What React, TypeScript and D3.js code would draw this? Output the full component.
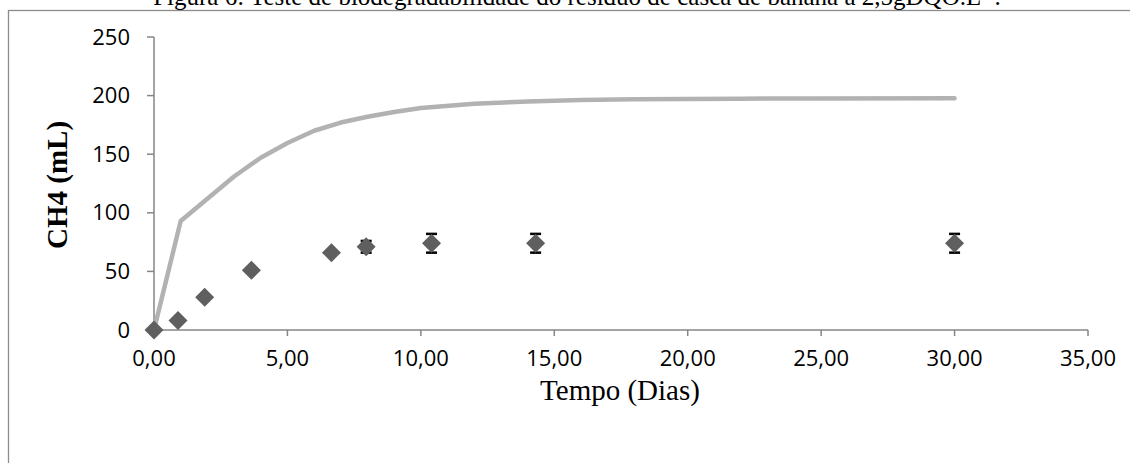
import { useEffect, useRef } from "react";
import * as d3 from "d3";

// Measured points (days, mL CH4) with standard deviation
const obsDays = [0, 0.9, 1.9, 3.65, 6.65, 7.95, 10.4, 14.3, 30];
const obsCH4 = [0, 8, 28, 51, 66, 71, 74, 74, 74];
const obsErr = [0, 0, 0, 2, 0, 5, 8, 8, 8];

// Theoretical curve
const curveDays = [0, 1, 2, 3, 4, 5, 6, 7, 8, 9, 10, 12, 14, 16, 18, 20, 22, 25, 30];
const curveCH4 = [0, 93, 112, 131, 147, 159.5, 170, 177, 182, 186, 189.5, 193, 195, 196.2, 196.9, 197.2, 197.4, 197.6, 197.8];

const yTicks = [0, 50, 100, 150, 200, 250];
const xTicks = [0, 5, 10, 15, 20, 25, 30, 35];

export default function App() {
  const svgRef = useRef<SVGSVGElement>(null);

  useEffect(() => {
    if (!svgRef.current) return;
    const width = 1130;
    const height = 463;
    const axisColor = "#868686";

    const svg = d3.select(svgRef.current);
    svg.selectAll("*").remove();
    svg.attr("width", width).attr("height", height);

    // Outer frame (chart area border, cut by the window)
    svg.append("rect")
      .attr("x", 8.5)
      .attr("y", 10.5)
      .attr("width", 1200)
      .attr("height", 600)
      .attr("fill", "#fff")
      .attr("stroke", "#8c8c8c")
      .attr("stroke-width", 1.3);

    // Caption (only lower part visible at top)
    const cap = svg.append("text")
      .attr("x", 577)
      .attr("y", 5)
      .attr("text-anchor", "middle")
      .attr("font-family", "'Liberation Serif', 'Times New Roman', serif")
      .attr("font-size", 25)
      .attr("fill", "#000");
    cap.append("tspan").text("Figura 6: Teste de biodegradabilidade do resíduo de casca de banana a 2,5gDQO.L");
    cap.append("tspan").attr("dy", -9).attr("font-size", 16).text("-1");
    cap.append("tspan").attr("dy", 9).text(".");

    const x = d3.scaleLinear().domain([0, 35]).range([154, 1088]);
    const y = d3.scaleLinear().domain([0, 250]).range([330, 37]);

    const g = svg.append("g");

    // Y axis
    g.append("line")
      .attr("x1", x(0)).attr("x2", x(0))
      .attr("y1", y(250)).attr("y2", y(0))
      .attr("stroke", axisColor).attr("stroke-width", 1.5);
    yTicks.forEach(t => {
      g.append("line")
        .attr("x1", x(0) - 7).attr("x2", x(0))
        .attr("y1", y(t)).attr("y2", y(t))
        .attr("stroke", axisColor).attr("stroke-width", 1.5);
      g.append("text")
        .attr("x", 130)
        .attr("y", y(t) + 7.5)
        .attr("text-anchor", "end")
        .attr("font-family", "'Open Sans', sans-serif")
        .attr("font-size", 22)
        .attr("fill", "#000")
        .text(t);
    });

    // X axis
    g.append("line")
      .attr("x1", x(0)).attr("x2", x(35))
      .attr("y1", y(0)).attr("y2", y(0))
      .attr("stroke", axisColor).attr("stroke-width", 1.5);
    const fmt = d3.format(".2f");
    xTicks.forEach(t => {
      g.append("line")
        .attr("x1", x(t)).attr("x2", x(t))
        .attr("y1", y(0)).attr("y2", y(0) + 6)
        .attr("stroke", axisColor).attr("stroke-width", 1.5);
      g.append("text")
        .attr("x", x(t))
        .attr("y", 366)
        .attr("text-anchor", "middle")
        .attr("font-family", "'Open Sans', sans-serif")
        .attr("font-size", 22)
        .attr("fill", "#000")
        .text(fmt(t).replace(".", ","));
    });

    // Axis titles
    svg.append("text")
      .attr("x", 620)
      .attr("y", 400)
      .attr("text-anchor", "middle")
      .attr("font-family", "'Liberation Serif', 'Times New Roman', serif")
      .attr("font-size", 29)
      .attr("fill", "#000")
      .text("Tempo (Dias)");

    svg.append("text")
      .attr("transform", "translate(67,185) rotate(-90)")
      .attr("text-anchor", "middle")
      .attr("font-family", "'Liberation Serif', 'Times New Roman', serif")
      .attr("font-weight", "bold")
      .attr("font-size", 29)
      .attr("fill", "#000")
      .text("CH4 (mL)");

    // Theoretical curve
    const curve = curveDays.map((d, i) => [d, curveCH4[i]] as [number, number]);
    const line = d3.line<[number, number]>()
      .x(d => x(d[0]))
      .y(d => y(d[1]));
    g.append("path")
      .datum(curve)
      .attr("fill", "none")
      .attr("stroke", "#b2b2b2")
      .attr("stroke-width", 4.5)
      .attr("stroke-linejoin", "round")
      .attr("stroke-linecap", "round")
      .attr("d", line);

    // Error bars
    obsDays.forEach((d, i) => {
      const e = obsErr[i];
      if (!e) return;
      const cx = x(d);
      g.append("line")
        .attr("x1", cx).attr("x2", cx)
        .attr("y1", y(obsCH4[i] + e)).attr("y2", y(obsCH4[i] - e))
        .attr("stroke", "#000").attr("stroke-width", 2);
      [obsCH4[i] + e, obsCH4[i] - e].forEach(v => {
        g.append("line")
          .attr("x1", cx - 5.5).attr("x2", cx + 5.5)
          .attr("y1", y(v)).attr("y2", y(v))
          .attr("stroke", "#000").attr("stroke-width", 2.5);
      });
    });

    // Diamonds
    const r = 9.5;
    obsDays.forEach((d, i) => {
      const cx = x(d);
      const cy = y(obsCH4[i]);
      g.append("path")
        .attr("d", `M${cx},${cy - r}L${cx + r},${cy}L${cx},${cy + r}L${cx - r},${cy}Z`)
        .attr("fill", "#5f5f5f");
    });
  }, []);

  return (
    <svg ref={svgRef} style={{ position: "absolute", left: 0, top: 0, display: "block" }}></svg>
  );
}
